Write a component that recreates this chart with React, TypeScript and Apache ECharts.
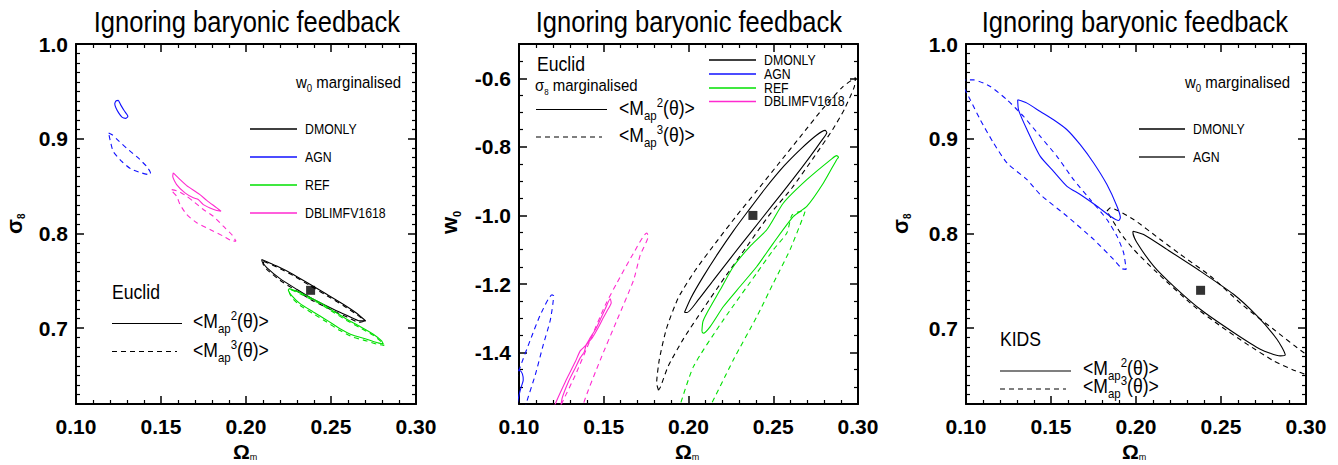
import React, { useEffect, useRef } from "react";
import * as echarts from "echarts";

type Pt = [number, number];

const FONT = '"Liberation Sans", Arial, Helvetica, sans-serif';
const INK = "#000000";
const BLUE = "#1010ff";
const GREEN = "#00e000";
const MAGENTA = "#ff2ad0";
const GREY = "#5a5a5a";

const TITLE = "Ignoring baryonic feedback";
const SIM_NAMES = ["DMONLY", "AGN", "REF", "DBLIMFV1618"];
const SIM_COLORS = [INK, BLUE, GREEN, MAGENTA];

const OMEGA_RANGE: Pt = [0.1, 0.3];
const SIGMA8_RANGE: Pt = [0.62, 1.0];
const W0_RANGE: Pt = [-1.55, -0.5];

const fiducialOmegaSigma: Pt[] = [[0.238, 0.74]];
const fiducialOmegaW0: Pt[] = [[0.238, -1.0]];

// ---- Euclid, Omega_m - sigma_8 plane (w0 marginalised) ----
const eS8_DMONLY_m2: Pt[] = [
  [0.2092, 0.7726], [0.2181, 0.7656], [0.2278, 0.7568], [0.2376, 0.7463], [0.2475, 0.7358],
  [0.2572, 0.7253], [0.2651, 0.7158], [0.2704, 0.7077], [0.2671, 0.7077], [0.2592, 0.7137],
  [0.2514, 0.72], [0.2396, 0.7305], [0.2298, 0.7411], [0.22, 0.7523], [0.2122, 0.7639],
  [0.2096, 0.7698], [0.2092, 0.7726],
];
const eS8_DMONLY_m3: Pt[] = [
  [0.2105, 0.7705], [0.2181, 0.7645], [0.2278, 0.7555], [0.2376, 0.745], [0.2475, 0.7345],
  [0.2572, 0.724], [0.2651, 0.7145], [0.2695, 0.708], [0.2665, 0.7062], [0.2592, 0.712],
  [0.2514, 0.7183], [0.2396, 0.7288], [0.2298, 0.7394], [0.22, 0.7506], [0.2122, 0.7622],
  [0.21, 0.768], [0.2105, 0.7705],
];
const eS8_AGN_m2: Pt[] = [
  [0.1235, 0.94], [0.1248, 0.9405], [0.1262, 0.936], [0.1282, 0.93], [0.13, 0.9255],
  [0.1305, 0.9235], [0.1292, 0.9215], [0.1272, 0.9225], [0.1252, 0.927], [0.1234, 0.933],
  [0.1228, 0.937], [0.1235, 0.94],
];
const eS8_AGN_m3: Pt[] = [
  [0.1192, 0.906], [0.1215, 0.904], [0.1243, 0.899], [0.1298, 0.89], [0.1366, 0.8797],
  [0.1419, 0.87], [0.1438, 0.864], [0.1435, 0.862], [0.1386, 0.8639], [0.1324, 0.868],
  [0.1269, 0.8761], [0.1219, 0.8866], [0.12, 0.899], [0.1192, 0.906],
];
const eS8_REF_m2: Pt[] = [
  [0.2255, 0.7418], [0.2318, 0.7376], [0.2376, 0.7323], [0.2435, 0.7271], [0.2514, 0.7182],
  [0.2592, 0.7095], [0.2671, 0.7018], [0.2749, 0.6937], [0.2798, 0.6866], [0.2808, 0.6832],
  [0.2769, 0.685], [0.271, 0.6884], [0.2631, 0.6925], [0.2553, 0.6995], [0.2475, 0.7085],
  [0.2396, 0.7172], [0.2318, 0.726], [0.2269, 0.7345], [0.2249, 0.7403], [0.2255, 0.7418],
];
const eS8_REF_m3: Pt[] = [
  [0.2265, 0.7405], [0.2318, 0.7365], [0.2376, 0.731], [0.2435, 0.7258], [0.2514, 0.7169],
  [0.2592, 0.7082], [0.2671, 0.7005], [0.2749, 0.6924], [0.2798, 0.6853], [0.2812, 0.6818],
  [0.2769, 0.6832], [0.271, 0.6866], [0.2631, 0.6905], [0.2553, 0.6975], [0.2475, 0.7065],
  [0.2396, 0.7152], [0.2318, 0.724], [0.2269, 0.7325], [0.2255, 0.738], [0.2265, 0.7405],
];
const eS8_DBL_m2: Pt[] = [
  [0.1572, 0.8639], [0.1602, 0.8586], [0.1651, 0.8505], [0.17, 0.8445], [0.1729, 0.841],
  [0.1769, 0.835], [0.1828, 0.827], [0.1853, 0.8235], [0.1828, 0.8242], [0.1788, 0.827],
  [0.1749, 0.8305], [0.1719, 0.8358], [0.169, 0.8376], [0.1641, 0.8428], [0.1592, 0.8516],
  [0.1569, 0.8603], [0.1572, 0.8639],
];
const eS8_DBL_m3: Pt[] = [
  [0.1563, 0.8463], [0.1602, 0.8445], [0.1651, 0.8393], [0.169, 0.834], [0.1749, 0.8253],
  [0.1808, 0.8182], [0.1866, 0.8077], [0.1916, 0.7989], [0.1941, 0.7919], [0.1925, 0.7919],
  [0.1866, 0.7972], [0.1788, 0.8042], [0.171, 0.8113], [0.1651, 0.82], [0.1612, 0.8305],
  [0.1592, 0.8393], [0.1566, 0.8445], [0.1563, 0.8463],
];

// ---- Euclid, Omega_m - w0 plane (sigma_8 marginalised) ----
const eW0_DMONLY_m2: Pt[] = [
  [0.1976, -1.283], [0.2015, -1.24], [0.2085, -1.18], [0.2175, -1.11], [0.2265, -1.045],
  [0.2355, -0.985], [0.2455, -0.92], [0.2565, -0.855], [0.2665, -0.805], [0.2755, -0.766],
  [0.2806, -0.752], [0.2816, -0.758], [0.2785, -0.782], [0.2715, -0.83], [0.2615, -0.895],
  [0.2495, -0.97], [0.2375, -1.045], [0.2255, -1.12], [0.2145, -1.19], [0.2055, -1.248],
  [0.1992, -1.283], [0.1976, -1.283],
];
const eW0_DMONLY_m3: Pt[] = [
  [0.1823, -1.51], [0.1812, -1.49], [0.1828, -1.42], [0.187, -1.33], [0.194, -1.24],
  [0.204, -1.16], [0.216, -1.08], [0.2285, -1.0], [0.24, -0.93], [0.253, -0.85],
  [0.266, -0.77], [0.279, -0.69], [0.291, -0.625], [0.2985, -0.598], [0.2978, -0.625],
  [0.292, -0.69], [0.285, -0.75], [0.274, -0.83], [0.261, -0.92], [0.2475, -1.0],
  [0.2345, -1.09], [0.2215, -1.18], [0.209, -1.27], [0.197, -1.36], [0.188, -1.44],
  [0.1835, -1.5], [0.1823, -1.51],
];
const eW0_AGN_m2: Pt[] = [
  [0.098, -1.45], [0.1005, -1.452], [0.102, -1.462], [0.1025, -1.48], [0.101, -1.505],
  [0.1, -1.525], [0.099, -1.55],
];
const eW0_AGN_m3: Pt[] = [
  [0.0985, -1.48], [0.1008, -1.4409], [0.1067, -1.363], [0.1126, -1.2899], [0.1195, -1.2315],
  [0.1204, -1.2345], [0.1185, -1.3045], [0.1143, -1.3775], [0.1096, -1.4651], [0.1043, -1.5478],
  [0.1035, -1.57],
];
const eW0_REF_m2: Pt[] = [
  [0.2079, -1.3387], [0.2085, -1.31], [0.2108, -1.285], [0.2187, -1.2169], [0.2265, -1.1489],
  [0.2363, -1.0905], [0.2462, -1.0418], [0.256, -0.9638], [0.2698, -0.8958], [0.2845, -0.835],
  [0.2874, -0.8257], [0.2885, -0.83], [0.2874, -0.8374], [0.2796, -0.9054], [0.2698, -0.9737],
  [0.2619, -1.0029], [0.2501, -1.0806], [0.2403, -1.1489], [0.2304, -1.2073], [0.2206, -1.2657],
  [0.2128, -1.3241], [0.2088, -1.3435], [0.2079, -1.3387],
];
const eW0_REF_m3: Pt[] = [
  [0.194, -1.57], [0.2029, -1.441], [0.2206, -1.3045], [0.2403, -1.168], [0.2501, -1.1],
  [0.258, -1.0515], [0.2609, -1.0], [0.2645, -0.99], [0.2688, -0.988], [0.268, -1.0],
  [0.2599, -1.1], [0.2501, -1.197], [0.2403, -1.295], [0.2265, -1.421], [0.2115, -1.57],
];
const eW0_DBL_m2: Pt[] = [
  [0.1205, -1.57], [0.1214, -1.5498], [0.1273, -1.4856], [0.1332, -1.4271], [0.1361, -1.395],
  [0.1391, -1.3805], [0.142, -1.3571], [0.145, -1.3337], [0.1479, -1.3045], [0.1509, -1.2724],
  [0.1538, -1.2432], [0.1544, -1.2549], [0.152, -1.2782], [0.1497, -1.2987], [0.1467, -1.3279],
  [0.1432, -1.3571], [0.1397, -1.3775], [0.1385, -1.398], [0.1361, -1.4155], [0.1332, -1.4447],
  [0.1291, -1.4856], [0.1255, -1.5323], [0.1243, -1.57],
];
const eW0_DBL_m3: Pt[] = [
  [0.121, -1.6], [0.1253, -1.5478], [0.1332, -1.466], [0.142, -1.3638], [0.1509, -1.2616],
  [0.1578, -1.1965], [0.1676, -1.1098], [0.1754, -1.0514], [0.1762, -1.0602], [0.1715, -1.1156],
  [0.1676, -1.1886], [0.1578, -1.3054], [0.1479, -1.4222], [0.1381, -1.5487], [0.1375, -1.6],
];

// ---- KIDS, Omega_m - sigma_8 plane (w0 marginalised) ----
const kS8_DMONLY_m2: Pt[] = [
  [0.1982, 0.8024], [0.2045, 0.7989], [0.2182, 0.7832], [0.2378, 0.7603], [0.2574, 0.7358],
  [0.2712, 0.7129], [0.2829, 0.6884], [0.2878, 0.6716], [0.2849, 0.6708], [0.2731, 0.6779],
  [0.2574, 0.6955], [0.2378, 0.72], [0.2221, 0.7445], [0.2104, 0.7656], [0.2006, 0.7902],
  [0.1982, 0.8007], [0.1982, 0.8024],
];
const kS8_DMONLY_m3: Pt[] = [
  [0.1829, 0.8235], [0.1849, 0.827], [0.1986, 0.8147], [0.2143, 0.7937], [0.2261, 0.7779],
  [0.2437, 0.7551], [0.2633, 0.7235], [0.2809, 0.6989], [0.2986, 0.6744], [0.31, 0.663],
  [0.31, 0.645], [0.2937, 0.6551], [0.2809, 0.6656], [0.2653, 0.6832], [0.2496, 0.7024],
  [0.2339, 0.7235], [0.2124, 0.7586], [0.1986, 0.7832], [0.1908, 0.8007], [0.1829, 0.8235],
];
const kS8_AGN_m2: Pt[] = [
  [0.1304, 0.9411], [0.1359, 0.9376], [0.1437, 0.9287], [0.1515, 0.92], [0.1594, 0.9095],
  [0.1672, 0.8937], [0.1751, 0.8744], [0.1829, 0.8516], [0.1888, 0.8287], [0.1908, 0.8165],
  [0.1898, 0.8137], [0.1849, 0.8182], [0.1771, 0.8287], [0.1672, 0.8411], [0.1594, 0.8498],
  [0.1515, 0.8656], [0.1437, 0.8814], [0.1359, 0.9095], [0.1309, 0.9305], [0.1304, 0.9411],
];
const kS8_AGN_m3: Pt[] = [
  [0.097, 0.962], [0.1045, 0.9621], [0.1143, 0.9551], [0.1241, 0.9411], [0.1339, 0.9235],
  [0.1437, 0.9024], [0.1535, 0.8814], [0.1633, 0.8568], [0.1731, 0.8358], [0.1829, 0.8147],
  [0.1888, 0.7972], [0.1927, 0.7797], [0.1942, 0.7621], [0.1918, 0.7628], [0.1868, 0.7726],
  [0.1751, 0.7937], [0.1594, 0.8182], [0.1437, 0.8411], [0.1359, 0.8568], [0.1241, 0.8744],
  [0.1162, 0.8955], [0.1084, 0.92], [0.1025, 0.9411], [0.0985, 0.955],
];

type Part = { t: string; s: number; dy?: number; b?: boolean };

const GRIDS = [
  { left: 76, top: 44, width: 340, height: 360 },
  { left: 519, top: 44, width: 339, height: 360 },
  { left: 966, top: 44, width: 340, height: 360 },
];

const axisLineStyle = { color: INK, width: 2 };
const tickStyle = { color: INK, width: 1.5 };
const minorStyle = { color: INK, width: 1.2 };
const tickLabel = { fontSize: 21, fontWeight: "bold" as const, fontFamily: FONT, color: INK };

function xAxesFor(gi: number) {
  const base = {
    type: "value",
    gridIndex: gi,
    min: OMEGA_RANGE[0],
    max: OMEGA_RANGE[1],
    interval: 0.05,
    splitLine: { show: false },
    axisLine: { show: true, onZero: false, lineStyle: axisLineStyle },
    axisTick: { show: true, inside: true, length: 8, lineStyle: tickStyle },
    minorTick: { show: true, splitNumber: 5, length: 4, lineStyle: minorStyle },
  };
  return [
    { ...base, position: "bottom", axisLabel: { ...tickLabel, margin: 12, formatter: (v: number) => v.toFixed(2) } },
    { ...base, position: "top", axisLabel: { show: false } },
  ];
}

function yAxesFor(gi: number, range: Pt, minorSplit: number, hideMax: boolean) {
  const base = {
    type: "value",
    gridIndex: gi,
    min: range[0],
    max: range[1],
    splitLine: { show: false },
    axisLine: { show: true, onZero: false, lineStyle: axisLineStyle },
    axisTick: { show: true, inside: true, length: 8, lineStyle: tickStyle },
    minorTick: { show: true, splitNumber: minorSplit, length: 4, lineStyle: minorStyle },
  };
  return [
    {
      ...base,
      position: "left",
      axisLabel: {
        ...tickLabel,
        margin: 8,
        showMinLabel: false,
        showMaxLabel: !hideMax,
        formatter: (v: number) => v.toFixed(1),
      },
    },
    { ...base, position: "right", axisLabel: { show: false } },
  ];
}

function contour(gi: number, data: Pt[], color: string, dashed: boolean) {
  return {
    type: "line",
    xAxisIndex: gi * 2,
    yAxisIndex: gi * 2,
    data,
    symbol: "none",
    showSymbol: false,
    smooth: 0.2,
    silent: true,
    clip: true,
    lineStyle: { color, width: 1.1, type: dashed ? [5, 4] : "solid" },
    z: 3,
  };
}

function fiducial(gi: number, data: Pt[]) {
  return {
    type: "scatter",
    xAxisIndex: gi * 2,
    yAxisIndex: gi * 2,
    data,
    symbol: "rect",
    symbolSize: 9,
    itemStyle: { color: INK },
    silent: true,
    z: 5,
  };
}

export default function App() {
  const ref = useRef<HTMLDivElement>(null);

  useEffect(() => {
    if (!ref.current) return;
    const chart = echarts.init(ref.current, null, { renderer: "svg" });
    const ctx = document.createElement("canvas").getContext("2d")!;

    // a run of text pieces (main text, subscripts, superscripts) sharing one baseline
    const run = (
      x: number,
      y: number,
      parts: Part[],
      opt: { sx?: number; rot?: number; align?: "center" } = {}
    ) => {
      const widths = parts.map((p) => {
        ctx.font = `${p.b ? "bold " : ""}${p.s}px ${FONT}`;
        return ctx.measureText(p.t).width;
      });
      const total = widths.reduce((a, b) => a + b, 0);
      let cx = opt.align === "center" ? -total / 2 : 0;
      const children = parts.map((p, i) => {
        const el = {
          type: "text",
          x: cx,
          y: (p.dy ?? 0) - 0.35 * p.s,
          silent: true,
          style: {
            text: p.t,
            fontSize: p.s,
            fontFamily: FONT,
            fontWeight: p.b ? "bold" : "normal",
            fill: INK,
            align: "left",
            verticalAlign: "middle",
            textAlign: "left",
            textVerticalAlign: "middle",
          },
        };
        cx += widths[i];
        return el;
      });
      return { type: "group", x, y, scaleX: opt.sx ?? 1, rotation: opt.rot ?? 0, silent: true, children };
    };

    const seg = (x1: number, x2: number, y: number, color: string, dashed: boolean, w = 1.2) => ({
      type: "line",
      silent: true,
      shape: { x1, y1: y, x2, y2: y },
      style: { stroke: color, lineWidth: w, lineDash: dashed ? [5, 4] : null },
    });

    const mapParts = (k: string): Part[] => [
      { t: "<M", s: 20 },
      { t: "ap", s: 13, dy: 5 },
      { t: k, s: 13, dy: -8 },
      { t: "(θ)>", s: 20 },
    ];
    const w0Marg: Part[] = [
      { t: "w", s: 17 },
      { t: "0", s: 11, dy: 4 },
      { t: " marginalised", s: 17 },
    ];
    const C = 0.88;

    const g: any[] = [];
    [247, 689, 1135].forEach((cx) => g.push(run(cx, 32, [{ t: TITLE, s: 29 }], { align: "center", sx: C })));

    // left panel annotations
    g.push(run(296, 88, w0Marg, { sx: C }));
    SIM_NAMES.forEach((n, i) => {
      const y = 129 + i * 28;
      g.push(seg(250, 297, y, SIM_COLORS[i], false, 1.5));
      g.push(run(305, y + 5, [{ t: n, s: 14 }], { sx: C }));
    });
    g.push(run(112, 299.5, [{ t: "Euclid", s: 20 }], { sx: C }));
    g.push(seg(112, 182, 323.5, INK, false));
    g.push(seg(112, 177, 351.5, INK, true));
    g.push(run(193, 328.5, mapParts("2"), { sx: C }));
    g.push(run(193, 357, mapParts("3"), { sx: C }));

    // middle panel annotations
    g.push(run(537, 71.5, [{ t: "Euclid", s: 20 }], { sx: C }));
    g.push(
      run(535, 91.5, [{ t: "σ", s: 17 }, { t: "8", s: 9, dy: 3 }, { t: " marginalised", s: 17 }], { sx: C })
    );
    g.push(seg(536, 607, 109.5, INK, false));
    g.push(run(619, 115, mapParts("2"), { sx: C }));
    g.push(seg(536, 602, 137, INK, true));
    g.push(run(619, 142, mapParts("3"), { sx: C }));
    [60, 74, 88, 101.5].forEach((y, i) => {
      g.push(seg(709, 756, y, SIM_COLORS[i], false, 1.5));
      g.push(run(764, y + 5, [{ t: SIM_NAMES[i], s: 14 }], { sx: C }));
    });

    // right panel annotations
    g.push(run(1185, 88, w0Marg, { sx: C }));
    [129, 157].forEach((y, i) => {
      g.push(seg(1139, 1185, y, i === 0 ? INK : GREY, false, i === 0 ? 1.3 : 2));
      g.push(run(1193, y + 5, [{ t: SIM_NAMES[i], s: 14 }], { sx: C }));
    });
    g.push(run(1000, 346.5, [{ t: "KIDS", s: 20 }], { sx: C }));
    g.push(seg(1000, 1071, 371, INK, false));
    g.push(run(1083, 375.5, mapParts("2"), { sx: C }));
    g.push(seg(1000, 1066, 389, INK, true));
    g.push(run(1083, 393.5, mapParts("3"), { sx: C }));

    // axis titles
    const sigma8: Part[] = [{ t: "σ", s: 22, b: true }, { t: "8", s: 10, dy: 3, b: true }];
    g.push(run(22, 234, sigma8, { rot: Math.PI / 2 }));
    g.push(run(908, 234, sigma8, { rot: Math.PI / 2 }));
    g.push(run(457, 234, [{ t: "w", s: 22, b: true }, { t: "0", s: 11, dy: 4, b: true }], { rot: Math.PI / 2 }));
    const omegaM: Part[] = [{ t: "Ω", s: 21, b: true }, { t: "m", s: 9, dy: 1.5 }];
    [233, 675, 1122].forEach((x) => g.push(run(x, 458.5, omegaM)));

    const option = {
      animation: false,
      backgroundColor: "#ffffff",
      grid: GRIDS.map((gr) => ({ ...gr, containLabel: false, outerBoundsMode: "none" })),
      xAxis: [...xAxesFor(0), ...xAxesFor(1), ...xAxesFor(2)],
      yAxis: [
        ...yAxesFor(0, SIGMA8_RANGE, 10, false),
        ...yAxesFor(1, W0_RANGE, 4, true),
        ...yAxesFor(2, SIGMA8_RANGE, 10, false),
      ],
      series: [
        contour(0, eS8_DMONLY_m2, INK, false),
        contour(0, eS8_DMONLY_m3, INK, true),
        contour(0, eS8_AGN_m2, BLUE, false),
        contour(0, eS8_AGN_m3, BLUE, true),
        contour(0, eS8_REF_m2, GREEN, false),
        contour(0, eS8_REF_m3, GREEN, true),
        contour(0, eS8_DBL_m2, MAGENTA, false),
        contour(0, eS8_DBL_m3, MAGENTA, true),
        fiducial(0, fiducialOmegaSigma),

        contour(1, eW0_DMONLY_m2, INK, false),
        contour(1, eW0_DMONLY_m3, INK, true),
        contour(1, eW0_AGN_m2, BLUE, false),
        contour(1, eW0_AGN_m3, BLUE, true),
        contour(1, eW0_REF_m2, GREEN, false),
        contour(1, eW0_REF_m3, GREEN, true),
        contour(1, eW0_DBL_m2, MAGENTA, false),
        contour(1, eW0_DBL_m3, MAGENTA, true),
        fiducial(1, fiducialOmegaW0),

        contour(2, kS8_DMONLY_m2, INK, false),
        contour(2, kS8_DMONLY_m3, INK, true),
        contour(2, kS8_AGN_m2, BLUE, false),
        contour(2, kS8_AGN_m3, BLUE, true),
        fiducial(2, fiducialOmegaSigma),
      ],
      graphic: g,
    };

    chart.setOption(option as any);
    return () => chart.dispose();
  }, []);

  return (
    <div
      ref={ref}
      style={{ position: "fixed", left: 0, top: 0, width: 1338, height: 465, background: "#fff" }}
    />
  );
}
